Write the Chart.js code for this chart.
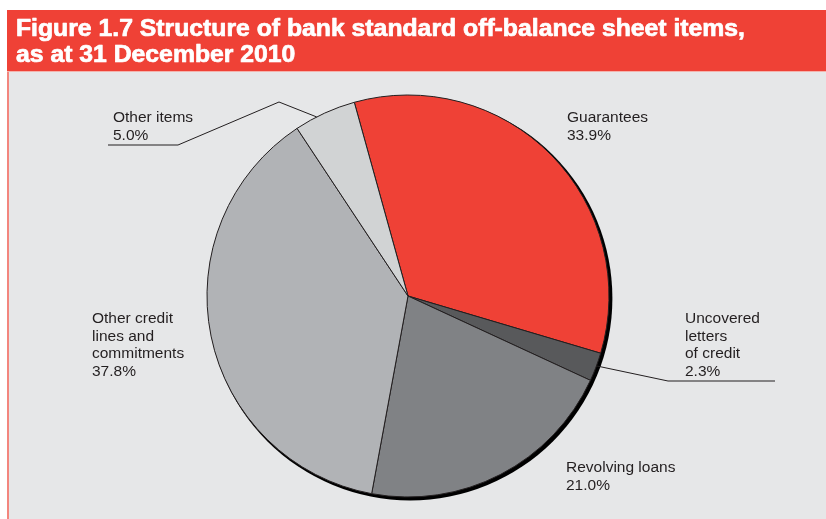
<!DOCTYPE html>
<html>
<head>
<meta charset="utf-8">
<script src="https://cdn.jsdelivr.net/npm/chart.js@4/dist/chart.umd.min.js"></script>
<style>
  html, body { margin: 0; padding: 0; background: #ffffff; }
  #wrap { position: relative; width: 826px; height: 519px; }
  canvas { display: block; }
</style>
</head>
<body>
<div id="wrap"><canvas id="pie" width="826" height="519"></canvas></div>
<script>
// Structure of bank standard off-balance sheet items, 31 December 2010 (per cent)
const categories = [
  'Guarantees',
  'Uncovered letters of credit',
  'Revolving loans',
  'Other credit lines and commitments',
  'Other items'
];
const shares = [33.9, 2.3, 21.0, 37.8, 5.0];
const labelLines = [
  ['Guarantees'],
  ['Uncovered', 'letters', 'of credit'],
  ['Revolving loans'],
  ['Other credit', 'lines and', 'commitments'],
  ['Other items']
];
const sliceColors = ['#EF4136', '#58595B', '#808285', '#B1B3B6', '#D1D3D4'];
const titleLines = [
  'Figure 1.7 Structure of bank standard off-balance sheet items,',
  'as at 31 December 2010'
];

// Where each label block starts (left x, first baseline) and its leader line, if any.
// "at" is how far along the slice's arc the leader line touches the rim.
const labelLayout = [
  { x: 567, y: 122 },
  { x: 685, y: 323, at: 0.46, leader: [[668, 381], [775, 381]] },
  { x: 566, y: 472 },
  { x: 92,  y: 323 },
  { x: 113, y: 122, at: 0.36, leader: [[279, 102], [178, 145], [108, 145]] }
];

const INK = '#231F20';
const PANEL = '#E6E7E8';
const RED = '#EF4136';

const framePlugin = {
  id: 'frame',
  beforeDraw(chart) {
    const ctx = chart.ctx;
    const W = chart.width, H = chart.height;
    ctx.save();
    ctx.fillStyle = '#ffffff';
    ctx.fillRect(0, 0, W, H);
    // grey panel
    ctx.fillStyle = PANEL;
    ctx.fillRect(8, 72, W - 8, H - 72);
    // red title band
    ctx.fillStyle = RED;
    ctx.fillRect(7, 10, W - 7, 62);
    ctx.fillStyle = '#F4B3AD';
    ctx.fillRect(7, 71, W - 7, 1);
    // thin red rule down the left side of the panel
    ctx.fillStyle = '#F3867E';
    ctx.fillRect(7, 72, 2, H - 72);
    // title text, fitted to its band
    ctx.fillStyle = '#ffffff';
    ctx.strokeStyle = '#ffffff';
    ctx.lineWidth = 0.7;
    ctx.lineJoin = 'round';
    ctx.font = 'bold 23px "Liberation Sans", Arial, sans-serif';
    ctx.textBaseline = 'alphabetic';
    const targetW = 729;
    const w0 = ctx.measureText(titleLines[0]).width;
    const sx = targetW / w0;
    titleLines.forEach((t, i) => {
      ctx.save();
      ctx.translate(16, 36 + i * 26);
      ctx.scale(sx, 1);
      ctx.fillText(t, 0, 0);
      ctx.strokeText(t, 0, 0);
      ctx.restore();
    });
    ctx.restore();
  },
  beforeDatasetsDraw(chart) {
    // drop shadow behind the pie
    const arc = chart.getDatasetMeta(0).data[0];
    if (!arc) return;
    const ctx = chart.ctx;
    ctx.save();
    ctx.fillStyle = '#000000';
    ctx.beginPath();
    ctx.arc(arc.x + 2.2, arc.y + 2.2, arc.outerRadius + 1.2, 0, Math.PI * 2);
    ctx.fill();
    ctx.restore();
  },
  afterDatasetsDraw(chart) {
    const ctx = chart.ctx;
    const arcs = chart.getDatasetMeta(0).data;
    ctx.save();
    ctx.font = '15.5px "Liberation Sans", Arial, sans-serif';
    ctx.fillStyle = INK;
    ctx.textBaseline = 'alphabetic';
    ctx.textAlign = 'left';
    labelLayout.forEach((pos, i) => {
      const lines = labelLines[i].concat([shares[i].toFixed(1) + '%']);
      lines.forEach((t, k) => ctx.fillText(t, pos.x, pos.y + k * 17.5));
      if (pos.leader) {
        const a = arcs[i];
        const ang = a.startAngle + (a.endAngle - a.startAngle) * pos.at;
        const r = a.outerRadius;
        ctx.strokeStyle = INK;
        ctx.lineWidth = 1;
        ctx.beginPath();
        ctx.moveTo(a.x + Math.cos(ang) * r, a.y + Math.sin(ang) * r);
        pos.leader.forEach(p => ctx.lineTo(p[0], p[1]));
        ctx.stroke();
      }
    });
    ctx.restore();
  }
};

new Chart(document.getElementById('pie'), {
  type: 'pie',
  data: {
    labels: categories,
    datasets: [{
      data: shares,
      backgroundColor: sliceColors,
      borderColor: INK,
      borderWidth: 1,
      radius: 201
    }]
  },
  options: {
    responsive: false,
    devicePixelRatio: 1,
    animation: false,
    rotation: -15.5,
    layout: { padding: { left: 207, right: 217, top: 95, bottom: 22 } },
    plugins: {
      legend: { display: false },
      tooltip: { enabled: false },
      title: { display: false }
    }
  },
  plugins: [framePlugin]
});
</script>
</body>
</html>
